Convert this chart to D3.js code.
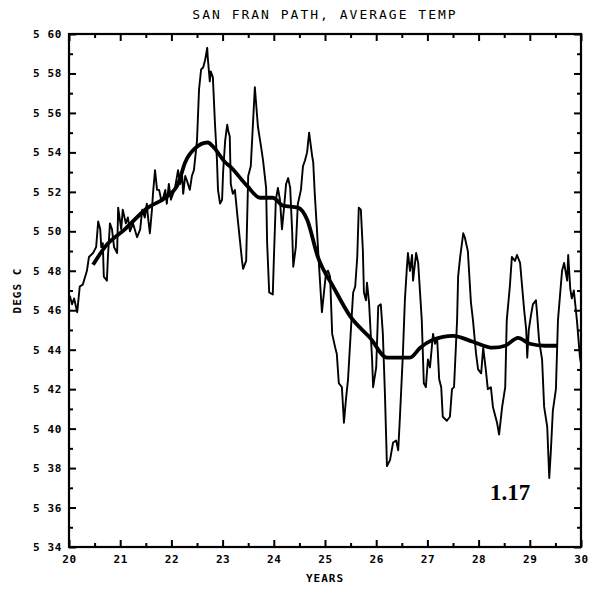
<!DOCTYPE html>
<html>
<head>
<meta charset="utf-8">
<script src="https://cdn.jsdelivr.net/npm/d3@7"></script>
<style>
  html, body { margin: 0; padding: 0; background: #fff; }
  svg { display: block; }
  .plotter { font-family: "DejaVu Sans Mono", "Liberation Mono", monospace; fill: #000; }
</style>
</head>
<body>
<svg id="chart" width="593" height="593"></svg>
<script>
// Monthly-ish average path temperature (deg C), years 20-30
const rawYears = [
  20.00, 20.02, 20.06, 20.10, 20.16, 20.21, 20.27, 20.35, 20.39, 20.47,
  20.53, 20.57, 20.61, 20.63, 20.66, 20.68, 20.74, 20.76, 20.80, 20.84,
  20.88, 20.94, 20.96, 21.02, 21.05, 21.11, 21.15, 21.19, 21.25, 21.33,
  21.39, 21.43, 21.48, 21.52, 21.54, 21.58, 21.62, 21.64, 21.68, 21.72,
  21.76, 21.80, 21.84, 21.88, 21.91, 21.95, 21.99, 22.03, 22.07, 22.13,
  22.17, 22.21, 22.23, 22.27, 22.30, 22.36, 22.40, 22.44, 22.50, 22.54,
  22.58, 22.62, 22.66, 22.70, 22.71, 22.75, 22.77, 22.81, 22.85, 22.89,
  22.91, 22.95, 22.99, 23.01, 23.05, 23.09, 23.11, 23.14, 23.16, 23.20,
  23.24, 23.30, 23.38, 23.40, 23.46, 23.50, 23.55, 23.59, 23.63, 23.69,
  23.75, 23.79, 23.85, 23.87, 23.91, 23.98, 24.00, 24.04, 24.08, 24.12,
  24.16, 24.20, 24.24, 24.28, 24.32, 24.36, 24.38, 24.43, 24.47, 24.53,
  24.57, 24.61, 24.65, 24.69, 24.75, 24.77, 24.80, 24.84, 24.88, 24.94,
  24.98, 25.02, 25.06, 25.10, 25.14, 25.20, 25.23, 25.27, 25.33, 25.37,
  25.41, 25.45, 25.51, 25.55, 25.59, 25.63, 25.66, 25.70, 25.74, 25.76,
  25.80, 25.82, 25.86, 25.92, 25.94, 26.00, 26.04, 26.09, 26.13, 26.17,
  26.21, 26.27, 26.33, 26.39, 26.43, 26.46, 26.52, 26.56, 26.60, 26.62,
  26.66, 26.70, 26.72, 26.78, 26.82, 26.89, 26.93, 26.97, 27.01, 27.05,
  27.11, 27.15, 27.19, 27.23, 27.27, 27.30, 27.38, 27.44, 27.48, 27.52,
  27.58, 27.60, 27.64, 27.70, 27.73, 27.79, 27.85, 27.89, 27.95, 27.99,
  28.05, 28.09, 28.14, 28.18, 28.24, 28.28, 28.36, 28.40, 28.46, 28.52,
  28.55, 28.61, 28.65, 28.71, 28.75, 28.81, 28.85, 28.89, 28.93, 28.95,
  28.98, 29.02, 29.06, 29.12, 29.14, 29.18, 29.24, 29.28, 29.34, 29.38,
  29.41, 29.45, 29.51, 29.55, 29.63, 29.67, 29.73, 29.75, 29.79, 29.82,
  29.86, 29.92, 29.98, 30.00
];
const rawTemps = [
  5.465, 5.467, 5.463, 5.466, 5.459, 5.472, 5.473, 5.480, 5.487, 5.489,
  5.492, 5.505, 5.501, 5.492, 5.494, 5.477, 5.475, 5.487, 5.504, 5.501,
  5.492, 5.489, 5.512, 5.501, 5.511, 5.504, 5.507, 5.500, 5.504, 5.497,
  5.501, 5.511, 5.507, 5.514, 5.508, 5.499, 5.511, 5.519, 5.531, 5.521,
  5.521, 5.516, 5.517, 5.521, 5.514, 5.524, 5.516, 5.519, 5.522, 5.531,
  5.524, 5.528, 5.519, 5.528, 5.526, 5.521, 5.528, 5.531, 5.546, 5.572,
  5.582, 5.583, 5.587, 5.593, 5.588, 5.576, 5.581, 5.578, 5.555, 5.536,
  5.521, 5.514, 5.516, 5.530, 5.546, 5.554, 5.551, 5.548, 5.524, 5.519,
  5.521, 5.505, 5.485, 5.481, 5.485, 5.528, 5.533, 5.553, 5.573, 5.553,
  5.543, 5.536, 5.522, 5.494, 5.469, 5.468, 5.485, 5.516, 5.522, 5.516,
  5.501, 5.512, 5.524, 5.527, 5.522, 5.499, 5.482, 5.492, 5.514, 5.521,
  5.533, 5.536, 5.540, 5.550, 5.538, 5.535, 5.519, 5.502, 5.484, 5.459,
  5.469, 5.479, 5.480, 5.477, 5.448, 5.441, 5.438, 5.423, 5.421, 5.403,
  5.415, 5.425, 5.452, 5.469, 5.472, 5.487, 5.512, 5.511, 5.490, 5.469,
  5.465, 5.474, 5.464, 5.435, 5.421, 5.431, 5.462, 5.463, 5.448, 5.418,
  5.381, 5.384, 5.393, 5.394, 5.389, 5.404, 5.437, 5.465, 5.482, 5.489,
  5.480, 5.488, 5.475, 5.489, 5.484, 5.455, 5.423, 5.421, 5.435, 5.431,
  5.448, 5.443, 5.446, 5.425, 5.421, 5.406, 5.404, 5.406, 5.420, 5.421,
  5.455, 5.477, 5.487, 5.499, 5.497, 5.490, 5.464, 5.455, 5.438, 5.430,
  5.428, 5.441, 5.430, 5.420, 5.421, 5.411, 5.403, 5.397, 5.411, 5.421,
  5.455, 5.472, 5.487, 5.485, 5.488, 5.484, 5.472, 5.460, 5.450, 5.436,
  5.450, 5.457, 5.463, 5.465, 5.459, 5.445, 5.435, 5.411, 5.401, 5.375,
  5.388, 5.409, 5.420, 5.455, 5.480, 5.484, 5.475, 5.488, 5.471, 5.466,
  5.470, 5.455, 5.436, 5.433
];

// Running-mean trend
const smoothYears = [
  20.47, 20.70, 21.09, 21.54, 21.88, 22.13, 22.27, 22.46, 22.71, 22.81,
  23.05, 23.14, 23.48, 23.73, 23.98, 24.18, 24.47, 24.65, 24.86, 25.16,
  25.49, 25.88, 26.21, 26.46, 26.66, 26.86, 27.11, 27.50, 27.89, 28.28,
  28.52, 28.77, 29.00, 29.30, 29.55
];
const smoothTemps = [
  5.483, 5.492, 5.501, 5.512, 5.517, 5.524, 5.535, 5.542, 5.545, 5.543,
  5.535, 5.533, 5.523, 5.517, 5.517, 5.513, 5.512, 5.506, 5.487, 5.472,
  5.457, 5.446, 5.436, 5.436, 5.436, 5.441, 5.445, 5.447, 5.444, 5.441,
  5.442, 5.446, 5.443, 5.442, 5.442
];

const xTicks = [20, 21, 22, 23, 24, 25, 26, 27, 28, 29, 30];
const yTicks = [5.34, 5.36, 5.38, 5.40, 5.42, 5.44, 5.46, 5.48, 5.50, 5.52, 5.54, 5.56, 5.58, 5.60];
const titleText = "SAN FRAN PATH, AVERAGE TEMP";
const xLabel = "YEARS";
const yLabel = "DEGS C";
const noteText = "1.17";

const margin = { left: 69, right: 12, top: 34, bottom: 46 };
const W = 593, H = 593;
const iw = W - margin.left - margin.right;
const ih = H - margin.top - margin.bottom;

const svg = d3.select("#chart");
const g = svg.append("g").attr("transform", `translate(${margin.left},${margin.top})`);

const x = d3.scaleLinear().domain([20, 30]).range([0, iw]);
const y = d3.scaleLinear().domain([5.34, 5.60]).range([ih, 0]);

const halfYears = d3.range(20, 30.01, 0.5).filter(v => Math.abs(v - Math.round(v)) > 0.1);
const hundredths = d3.range(5.34, 5.6001, 0.01).map(v => +v.toFixed(2));
const minorY = hundredths.filter(v => !yTicks.some(t => Math.abs(t - v) < 1e-6));

const fmtY = v => d3.format(".2f")(v).replace(".", " ");

function styleAxis(sel) {
  sel.select(".domain").remove();
  sel.selectAll(".tick line").attr("stroke", "#000").attr("stroke-width", 2);
  sel.selectAll(".tick text")
    .attr("class", "plotter")
    .attr("font-size", 11)
    .attr("font-weight", "bold")
    .attr("letter-spacing", 0.6)
    .attr("fill", "#000");
}

// bottom axis: major labelled ticks + half-year minor ticks, all pointing inward
const bottomMajor = g.append("g").attr("transform", `translate(0,${ih})`)
  .call(d3.axisBottom(x).tickValues(xTicks).tickSizeInner(-7).tickSizeOuter(0).tickPadding(8).tickFormat(d3.format("d")));
styleAxis(bottomMajor);
const bottomMinor = g.append("g").attr("transform", `translate(0,${ih})`)
  .call(d3.axisBottom(x).tickValues(halfYears).tickSizeInner(-4).tickSizeOuter(0).tickFormat(""));
styleAxis(bottomMinor);

// top axis
const topMajor = g.append("g")
  .call(d3.axisTop(x).tickValues(xTicks).tickSizeInner(-7).tickSizeOuter(0).tickFormat(""));
styleAxis(topMajor);
const topMinor = g.append("g")
  .call(d3.axisTop(x).tickValues(halfYears).tickSizeInner(-4).tickSizeOuter(0).tickFormat(""));
styleAxis(topMinor);

// left axis
const leftMajor = g.append("g")
  .call(d3.axisLeft(y).tickValues(yTicks).tickSizeInner(-7).tickSizeOuter(0).tickPadding(7).tickFormat(fmtY));
styleAxis(leftMajor);
const leftMinor = g.append("g")
  .call(d3.axisLeft(y).tickValues(minorY).tickSizeInner(-4).tickSizeOuter(0).tickFormat(""));
styleAxis(leftMinor);

// right axis
const rightMajor = g.append("g").attr("transform", `translate(${iw},0)`)
  .call(d3.axisRight(y).tickValues(yTicks).tickSizeInner(-7).tickSizeOuter(0).tickFormat(""));
styleAxis(rightMajor);
const rightMinor = g.append("g").attr("transform", `translate(${iw},0)`)
  .call(d3.axisRight(y).tickValues(minorY).tickSizeInner(-4).tickSizeOuter(0).tickFormat(""));
styleAxis(rightMinor);

// frame
g.append("rect")
  .attr("x", 0).attr("y", 0).attr("width", iw).attr("height", ih)
  .attr("fill", "none").attr("stroke", "#000").attr("stroke-width", 2.2);

// raw series
const raw = rawYears.map((yr, i) => [yr, rawTemps[i]]);
g.append("path")
  .datum(raw)
  .attr("fill", "none")
  .attr("stroke", "#000")
  .attr("stroke-width", 1.9)
  .attr("stroke-linejoin", "round")
  .attr("d", d3.line().x(d => x(d[0])).y(d => y(d[1])));

// trend
const smooth = smoothYears.map((yr, i) => [yr, smoothTemps[i]]);
g.append("path")
  .datum(smooth)
  .attr("fill", "none")
  .attr("stroke", "#000")
  .attr("stroke-width", 3.8)
  .attr("stroke-linejoin", "round")
  .attr("stroke-linecap", "butt")
  .attr("d", d3.line().curve(d3.curveMonotoneX).x(d => x(d[0])).y(d => y(d[1])));

// titles
svg.append("text")
  .attr("class", "plotter")
  .attr("x", margin.left + iw / 2)
  .attr("y", 19)
  .attr("text-anchor", "middle")
  .attr("font-size", 13)
  .attr("letter-spacing", 2)
  .text(titleText);

svg.append("text")
  .attr("class", "plotter")
  .attr("x", margin.left + iw / 2)
  .attr("y", 582)
  .attr("text-anchor", "middle")
  .attr("font-size", 11)
  .attr("font-weight", "bold")
  .attr("letter-spacing", 1)
  .text(xLabel);

svg.append("text")
  .attr("class", "plotter")
  .attr("transform", `translate(21,${margin.top + ih / 2}) rotate(-90)`)
  .attr("text-anchor", "middle")
  .attr("font-size", 11)
  .attr("font-weight", "bold")
  .attr("letter-spacing", 1)
  .text(yLabel);

svg.append("text")
  .attr("x", 510)
  .attr("y", 500)
  .attr("text-anchor", "middle")
  .attr("font-family", "'Liberation Serif', 'DejaVu Serif', serif")
  .attr("font-weight", "bold")
  .attr("font-size", 23)
  .attr("fill", "#000")
  .text(noteText);
</script>
</body>
</html>
